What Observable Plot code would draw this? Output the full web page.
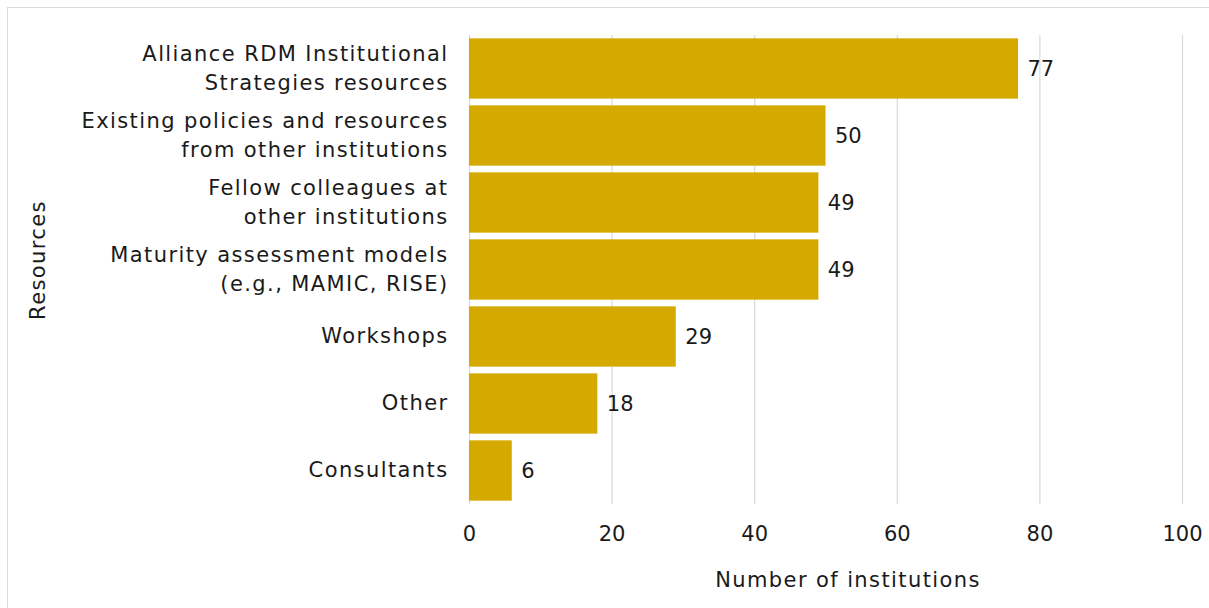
<!DOCTYPE html>
<html>
<head>
<meta charset="utf-8">
<script src="https://cdn.jsdelivr.net/npm/d3@7"></script>
<script src="https://cdn.jsdelivr.net/npm/@observablehq/plot@0.6"></script>
<style>
  html, body { margin: 0; padding: 0; background: #fff; overflow: hidden; }
  #frame { position: absolute; left: 7px; top: 7px; width: 1230px; height: 640px; border: 1.5px solid #dcdcdc; }
  #chart { position: absolute; left: 0; top: 0; }
  g[aria-label="y-axis tick label"] text,
  g.axis-title text { letter-spacing: 1.4px; }
</style>
</head>
<body>
<div id="frame"></div>
<div id="chart"></div>
<script>
const categories = [
  "Alliance RDM Institutional\nStrategies resources",
  "Existing policies and resources\nfrom other institutions",
  "Fellow colleagues at\nother institutions",
  "Maturity assessment models\n(e.g., MAMIC, RISE)",
  "Workshops",
  "Other",
  "Consultants"
];
const values = [77, 50, 49, 49, 29, 18, 6];
const xTicks = [0, 20, 40, 60, 80, 100];
const xTitle = "Number of institutions";
const yTitle = "Resources";

const data = categories.map((c, i) => ({category: c, value: values[i]}));
const font = "'DejaVu Sans', sans-serif";

const chart = Plot.plot({
  width: 1209,
  height: 608,
  marginLeft: 469,
  marginRight: 27,
  marginTop: 35,
  marginBottom: 104,
  style: {fontFamily: font, fontSize: "21px", color: "#1a1a1a", background: "transparent"},
  x: {domain: [0, 100], ticks: xTicks},
  y: {domain: categories, paddingInner: 0.1, paddingOuter: 0.05, round: false},
  marks: [
    Plot.gridX(xTicks, {stroke: "#d9d9d9", strokeOpacity: 1, strokeWidth: 1.2}),
    Plot.barX(data, {x: "value", y: "category", fill: "#D4AA00"}),
    Plot.text(data, {x: "value", y: "category", text: d => String(d.value), textAnchor: "start", dx: 9, fontSize: 21, fill: "#1a1a1a"}),
    Plot.axisX({ticks: xTicks, tickSize: 0, tickPadding: 22, fontSize: 21, label: null}),
    Plot.axisY({tickSize: 0, tickPadding: 21, dy: -3, fontSize: 21, lineHeight: 1.38, label: null}),
    Plot.text([xTitle], {frameAnchor: "bottom", text: d => d, dx: 22, dy: 76, textAnchor: "middle", lineAnchor: "middle", fontSize: 21, fill: "#1a1a1a", className: "axis-title"}),
    Plot.text([yTitle], {frameAnchor: "left", text: d => d, dx: -431, dy: -10, rotate: -90, textAnchor: "middle", lineAnchor: "middle", fontSize: 21, fill: "#1a1a1a", className: "axis-title"})
  ]
});
document.getElementById("chart").appendChild(chart);
</script>
</body>
</html>
